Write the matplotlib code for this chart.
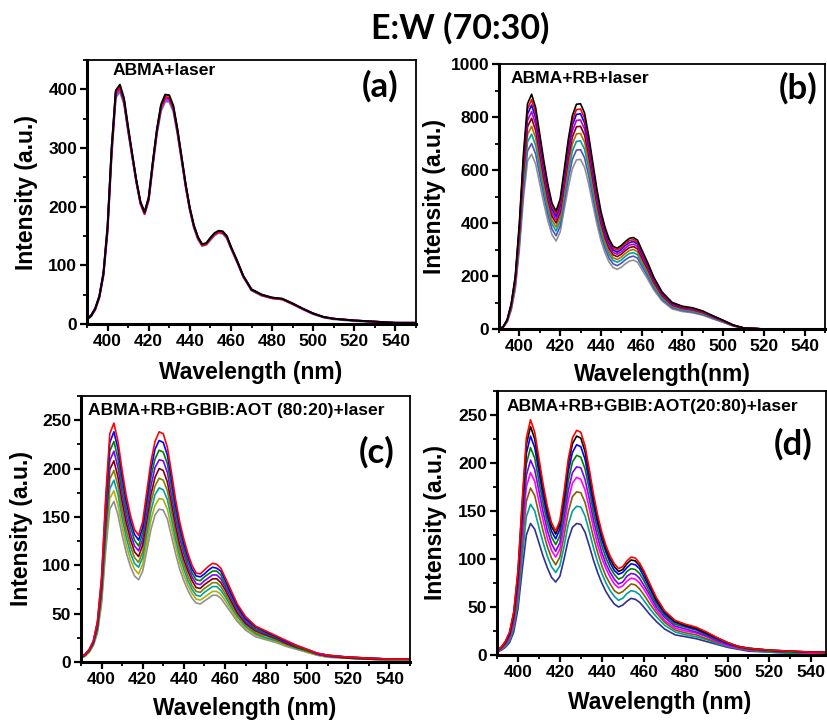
import matplotlib
matplotlib.use("Agg")
import matplotlib.pyplot as plt
from matplotlib.ticker import MultipleLocator

# ---------------- data ----------------
wavelength = [390, 392, 394, 396, 398, 400, 402, 404, 406, 408,
              410, 412, 414, 416, 418, 420, 422, 424, 426, 428,
              430, 432, 434, 436, 438, 440, 442, 444, 446, 448,
              450, 452, 454, 456, 458, 460,
              463, 466, 470, 475, 480, 485, 490, 495, 500, 505, 510, 520, 530, 540, 550]

spectra_a = [
    [8, 14, 26, 47, 86, 165, 300, 398, 408, 385, 336, 290, 245, 208, 190, 215, 276, 332, 374, 391,
     390, 372, 332, 285, 238, 198, 168, 148, 136, 138, 147, 155, 159, 158, 150, 132,
     108, 82, 59, 50, 45, 43, 35, 26, 18, 12, 9, 6, 4, 2, 2],
    [8, 14, 25, 46, 84, 162, 296, 394, 404, 381, 333, 287, 243, 206, 188, 213, 273, 329, 370, 387,
     386, 368, 329, 282, 236, 196, 166, 146, 134, 136, 145, 153, 157, 156, 148, 130,
     107, 81, 58, 49, 44, 42, 34, 26, 18, 12, 9, 6, 4, 2, 2],
    [9, 15, 27, 48, 88, 168, 302, 396, 403, 380, 332, 288, 244, 208, 191, 216, 276, 330, 371, 386,
     385, 369, 330, 284, 237, 197, 167, 147, 135, 137, 146, 154, 157, 156, 149, 131,
     107, 82, 59, 50, 45, 43, 35, 26, 18, 12, 9, 6, 4, 2, 2],
    [8, 14, 26, 46, 85, 160, 292, 390, 400, 378, 330, 285, 242, 205, 187, 211, 271, 327, 366, 382,
     382, 365, 326, 280, 234, 195, 165, 145, 134, 136, 144, 152, 156, 155, 147, 130,
     106, 81, 58, 49, 44, 42, 34, 25, 17, 12, 9, 6, 4, 2, 2],
    [7, 13, 24, 44, 82, 156, 288, 386, 396, 375, 328, 284, 241, 205, 188, 210, 269, 324, 363, 379,
     379, 362, 324, 279, 233, 194, 164, 144, 133, 135, 143, 151, 155, 154, 146, 129,
     105, 80, 57, 48, 44, 42, 34, 25, 17, 11, 8, 5, 3, 2, 1],
]
colors_a = ["#000000", "#FF0000", "#0000FF", "#FF00FF", "#20A0A0"]

spectra_b = [
    [0, 8, 35, 95, 200, 400, 660, 850, 886, 835, 735, 635, 545, 475, 445, 490, 600, 715, 805, 848,
     850, 815, 730, 630, 530, 445, 385, 340, 312, 305, 315, 330, 342, 345, 335, 300,
     250, 195, 140, 100, 86, 80, 68, 50, 33, 15, 4, 0, 0, 0, 0],
    [0, 8, 34, 93, 195, 391, 644, 830, 865, 815, 718, 620, 532, 464, 435, 478, 586, 698, 786, 828,
     830, 796, 713, 615, 518, 435, 376, 332, 305, 298, 307, 322, 334, 337, 327, 293,
     244, 190, 137, 98, 84, 78, 66, 49, 32, 15, 4, 0, 0, 0, 0],
    [0, 8, 33, 91, 191, 382, 630, 811, 845, 796, 701, 606, 520, 453, 425, 468, 573, 682, 769, 810,
     812, 778, 697, 601, 506, 425, 367, 324, 298, 290, 300, 315, 326, 330, 320, 287,
     239, 186, 134, 96, 82, 77, 65, 48, 32, 14, 4, 0, 0, 0, 0],
    [0, 7, 32, 88, 185, 371, 611, 787, 820, 773, 680, 588, 505, 440, 412, 454, 556, 662, 747, 787,
     789, 755, 677, 584, 491, 413, 357, 315, 289, 282, 291, 305, 317, 320, 311, 278,
     232, 181, 130, 93, 80, 74, 63, 46, 31, 14, 4, 0, 0, 0, 0],
    [0, 7, 31, 85, 180, 360, 592, 763, 795, 749, 660, 570, 490, 427, 400, 440, 540, 643, 724, 763,
     765, 732, 657, 566, 477, 401, 346, 305, 280, 273, 282, 296, 307, 311, 302, 270,
     225, 176, 126, 90, 78, 72, 62, 45, 30, 13, 4, 0, 0, 0, 0],
    [0, 7, 30, 82, 173, 347, 570, 734, 765, 721, 635, 549, 472, 411, 385, 424, 520, 619, 698, 736,
     738, 705, 633, 546, 459, 386, 333, 293, 269, 262, 271, 285, 296, 300, 291, 260,
     217, 169, 122, 87, 75, 70, 59, 44, 29, 13, 3, 0, 0, 0, 0],
    [0, 7, 29, 79, 167, 333, 548, 706, 735, 693, 610, 527, 453, 396, 370, 407, 500, 595, 671, 708,
     710, 678, 608, 524, 442, 371, 320, 282, 259, 252, 260, 274, 285, 288, 280, 251,
     209, 163, 117, 84, 73, 67, 57, 42, 28, 12, 3, 0, 0, 0, 0],
    [0, 6, 28, 75, 159, 318, 522, 672, 700, 660, 581, 503, 432, 377, 352, 388, 477, 567, 640, 675,
     677, 646, 580, 500, 421, 355, 305, 268, 246, 239, 248, 261, 271, 275, 267, 239,
     199, 156, 112, 80, 70, 64, 55, 40, 26, 12, 3, 0, 0, 0, 0],
    [0, 6, 26, 71, 150, 300, 492, 634, 660, 622, 548, 474, 408, 356, 332, 366, 450, 535, 605, 638,
     640, 610, 548, 472, 398, 335, 288, 253, 232, 225, 233, 246, 256, 260, 252, 226,
     188, 147, 106, 76, 66, 61, 52, 38, 25, 11, 3, 0, 0, 0, 0],
]
colors_b = ["#000000", "#FF0000", "#0000FF", "#C000C0", "#800000", "#B07000",
            "#00A0A0", "#5050C0", "#909090"]

spectra_c = [
    [5, 8, 13, 22, 42, 88, 170, 236, 247, 228, 198, 172, 152, 137, 131, 145, 176, 207, 228, 238,
     236, 222, 196, 168, 145, 127, 112, 100, 92, 91, 95, 99, 102, 101, 97, 88,
     74, 60, 47, 37, 32, 27, 22, 17, 13, 9, 7, 5, 4, 3, 3],
    [5, 8, 13, 21, 41, 85, 164, 227, 238, 220, 191, 166, 146, 132, 126, 139, 169, 199, 220, 229,
     227, 214, 189, 162, 140, 122, 108, 96, 89, 88, 91, 95, 98, 97, 94, 85,
     71, 58, 45, 36, 31, 26, 21, 17, 13, 9, 7, 5, 4, 3, 3],
    [5, 8, 12, 21, 39, 81, 157, 218, 228, 210, 182, 158, 140, 126, 120, 133, 162, 191, 210, 219,
     217, 205, 181, 155, 134, 117, 103, 92, 85, 84, 88, 91, 94, 94, 90, 81,
     69, 56, 44, 34, 30, 25, 21, 16, 12, 9, 7, 5, 4, 3, 3],
    [5, 7, 12, 20, 38, 78, 150, 208, 218, 201, 174, 151, 133, 120, 115, 127, 154, 182, 201, 209,
     208, 196, 172, 148, 128, 112, 98, 88, 81, 80, 84, 87, 90, 90, 86, 78,
     66, 54, 42, 33, 29, 25, 20, 16, 12, 8, 6, 5, 4, 3, 3],
    [5, 7, 12, 20, 36, 75, 143, 199, 208, 191, 166, 144, 127, 114, 109, 121, 147, 173, 191, 200,
     198, 186, 164, 141, 121, 106, 94, 84, 77, 76, 80, 83, 86, 86, 82, 75,
     63, 51, 40, 32, 28, 24, 19, 15, 12, 8, 6, 4, 3, 3, 3],
    [4, 7, 11, 19, 35, 71, 136, 189, 198, 182, 157, 136, 120, 108, 103, 114, 139, 165, 182, 190,
     188, 177, 156, 134, 115, 101, 89, 79, 73, 72, 76, 79, 82, 82, 78, 71,
     60, 49, 39, 30, 27, 23, 18, 15, 11, 8, 6, 4, 3, 2, 2],
    [4, 7, 11, 18, 33, 68, 129, 179, 188, 173, 149, 129, 113, 102, 98, 108, 132, 156, 173, 180,
     178, 168, 148, 127, 109, 96, 84, 75, 69, 68, 72, 75, 78, 78, 74, 68,
     57, 47, 37, 29, 25, 22, 18, 14, 11, 8, 6, 4, 3, 2, 2],
    [4, 6, 10, 18, 32, 64, 122, 169, 177, 162, 140, 121, 106, 96, 91, 101, 123, 147, 162, 169,
     168, 158, 139, 120, 103, 90, 79, 71, 65, 64, 67, 70, 73, 73, 70, 64,
     54, 44, 35, 28, 24, 21, 17, 14, 10, 7, 5, 4, 3, 2, 2],
    [4, 6, 10, 17, 30, 60, 114, 158, 166, 152, 131, 113, 99, 89, 85, 94, 115, 137, 152, 158,
     157, 148, 130, 112, 96, 84, 74, 66, 61, 60, 63, 66, 69, 69, 66, 60,
     51, 42, 33, 26, 23, 20, 16, 13, 10, 7, 5, 4, 3, 2, 2],
]
colors_c = ["#FF0000", "#0000FF", "#008000", "#8000FF", "#800000", "#808000",
            "#00A0A0", "#B0B000", "#909090"]

spectra_d = [
    [5, 8, 14, 24, 45, 88, 160, 226, 245, 232, 205, 178, 155, 138, 129, 140, 170, 204, 226, 234,
     232, 218, 194, 168, 146, 128, 114, 103, 95, 90, 92, 98, 102, 101, 96, 88,
     74, 60, 46, 36, 32, 29, 24, 18, 13, 9, 7, 5, 4, 3, 3],
    [5, 8, 14, 23, 44, 85, 155, 219, 238, 225, 199, 173, 151, 134, 126, 136, 165, 199, 220, 228,
     226, 212, 189, 164, 142, 125, 111, 100, 92, 87, 89, 95, 99, 98, 93, 86,
     72, 58, 45, 35, 31, 28, 23, 18, 13, 9, 7, 5, 4, 3, 3],
    [5, 8, 13, 22, 42, 82, 149, 210, 228, 216, 191, 166, 145, 129, 121, 131, 159, 191, 211, 219,
     217, 204, 181, 157, 137, 120, 107, 96, 88, 84, 86, 91, 95, 94, 90, 82,
     69, 56, 43, 34, 30, 27, 22, 17, 12, 9, 7, 5, 4, 3, 3],
    [5, 7, 12, 21, 39, 77, 141, 199, 216, 205, 181, 158, 138, 123, 115, 124, 151, 181, 201, 208,
     206, 194, 173, 149, 130, 114, 101, 91, 84, 79, 81, 87, 90, 89, 85, 78,
     65, 53, 41, 32, 29, 26, 21, 16, 12, 8, 6, 4, 3, 3, 2],
    [4, 7, 12, 20, 37, 72, 132, 187, 203, 193, 171, 149, 130, 116, 108, 117, 143, 171, 190, 196,
     195, 183, 163, 141, 123, 107, 95, 86, 79, 74, 76, 82, 85, 84, 80, 73,
     62, 50, 39, 30, 27, 24, 20, 15, 11, 8, 6, 4, 3, 3, 2],
    [4, 6, 11, 18, 34, 68, 123, 175, 190, 181, 160, 140, 122, 109, 102, 110, 134, 161, 179, 185,
     183, 172, 153, 133, 115, 101, 90, 81, 74, 70, 72, 77, 80, 79, 75, 69,
     58, 47, 36, 28, 25, 23, 19, 14, 10, 7, 5, 4, 3, 2, 2],
    [4, 6, 10, 17, 31, 62, 113, 160, 174, 166, 147, 129, 113, 101, 94, 102, 124, 149, 165, 170,
     169, 159, 141, 123, 107, 93, 82, 74, 67, 64, 66, 70, 74, 73, 69, 63,
     53, 44, 34, 26, 23, 21, 17, 13, 10, 7, 5, 4, 3, 2, 2],
    [3, 6, 9, 15, 28, 55, 101, 144, 157, 150, 133, 117, 103, 92, 86, 93, 113, 136, 150, 155,
     154, 145, 129, 112, 97, 85, 75, 67, 61, 57, 59, 64, 67, 66, 63, 57,
     48, 40, 31, 24, 21, 19, 16, 12, 9, 7, 5, 3, 2, 2, 1],
    [3, 5, 8, 13, 24, 48, 88, 125, 137, 131, 117, 103, 91, 81, 76, 82, 100, 120, 133, 137,
     136, 128, 114, 99, 86, 75, 66, 59, 53, 50, 52, 56, 59, 58, 55, 50,
     42, 35, 27, 21, 19, 17, 14, 11, 8, 6, 4, 3, 2, 2, 1],
]
colors_d = ["#FF0000", "#000000", "#0000FF", "#008000", "#8000FF", "#FF00FF",
            "#806000", "#00A0A0", "#303090"]

panel_titles = ["ABMA+laser", "ABMA+RB+laser",
                "ABMA+RB+GBIB:AOT (80:20)+laser", "ABMA+RB+GBIB:AOT(20:80)+laser"]
panel_tags = ["(a)", "(b)", "(c)", "(d)"]
x_labels = ["Wavelength (nm)", "Wavelength(nm)", "Wavelength (nm)", "Wavelength (nm)"]
y_label = "Intensity (a.u.)"
fig_title = "E:W (70:30)"

# ---------------- figure ----------------
W, H = 827, 722
fig = plt.figure(figsize=(W / 100, H / 100), dpi=100)
plt.rcParams["font.family"] = ["Liberation Sans", "DejaVu Sans"]

def px_axes(l, t, r, b):
    return fig.add_axes([l / W, 1 - b / H, (r - l) / W, (b - t) / H])

panels = [
    dict(box=(87, 60, 416, 324), data=spectra_a, colors=colors_a, ylim=(0, 450), ymaj=100, ymin=50,
         xlim=(390, 550), title_xy=(0.079, 0.962), tag_xy=(0.89, 0.90),
         xlab_xy=(251, 372), ylab_xy=(27, 192), lw=1.4),
    dict(box=(499, 64, 825, 329), data=spectra_b, colors=colors_b, ylim=(0, 1000), ymaj=200, ymin=100,
         xlim=(390, 550), title_xy=(0.034, 0.947), tag_xy=(0.917, 0.909),
         xlab_xy=(662, 375), ylab_xy=(435, 196), lw=1.2),
    dict(box=(81, 396, 410, 662), data=spectra_c, colors=colors_c, ylim=(0, 275), ymaj=50, ymin=25,
         xlim=(390, 550), title_xy=(0.021, 0.944), tag_xy=(0.90, 0.79),
         xlab_xy=(245, 708), ylab_xy=(22, 529), lw=1.2),
    dict(box=(497, 391, 826, 655), data=spectra_d, colors=colors_d, ylim=(0, 275), ymaj=50, ymin=25,
         xlim=(390, 547), title_xy=(0.03, 0.94), tag_xy=(0.90, 0.80),
         xlab_xy=(660, 703), ylab_xy=(436, 523), lw=1.2),
]

for i, p in enumerate(panels):
    ax = px_axes(*p["box"])
    for spec, col in zip(reversed(p["data"]), reversed(p["colors"])):
        ax.plot(wavelength, spec, color=col, lw=p["lw"])
    ax.set_xlim(*p["xlim"])
    ax.set_ylim(*p["ylim"])
    ax.xaxis.set_major_locator(MultipleLocator(20))
    ax.xaxis.set_minor_locator(MultipleLocator(10))
    ax.yaxis.set_major_locator(MultipleLocator(p["ymaj"]))
    ax.yaxis.set_minor_locator(MultipleLocator(p["ymin"]))
    ax.tick_params(which="major", direction="out", length=5, width=1.6,
                   labelsize=12.5, pad=2)
    ax.tick_params(which="minor", direction="out", length=3, width=1.3)
    for lab in ax.get_xticklabels() + ax.get_yticklabels():
        lab.set_fontweight("bold")
    ax.spines["left"].set_linewidth(2.2)
    ax.spines["bottom"].set_linewidth(2.2)
    ax.spines["top"].set_linewidth(1.3)
    ax.spines["right"].set_linewidth(1.3)
    ax.text(p["title_xy"][0], p["title_xy"][1], panel_titles[i], transform=ax.transAxes,
            fontsize=12.6, fontweight="bold", ha="left", va="center")
    ax.text(p["tag_xy"][0], p["tag_xy"][1], panel_tags[i], transform=ax.transAxes,
            fontsize=25, fontweight="bold", ha="center", va="center", family="Lato")
    fig.text(p["xlab_xy"][0] / W, 1 - p["xlab_xy"][1] / H, x_labels[i], fontsize=16.5,
             fontweight="bold", ha="center", va="center")
    fig.text(p["ylab_xy"][0] / W, 1 - p["ylab_xy"][1] / H, y_label, fontsize=16.5,
             fontweight="bold", ha="center", va="center", rotation=90)

fig.text(460 / W, 1 - 28 / H, fig_title, fontsize=24.5, fontweight="bold",
         ha="center", va="center", family="Lato")

fig.savefig("out.png", dpi=100)
